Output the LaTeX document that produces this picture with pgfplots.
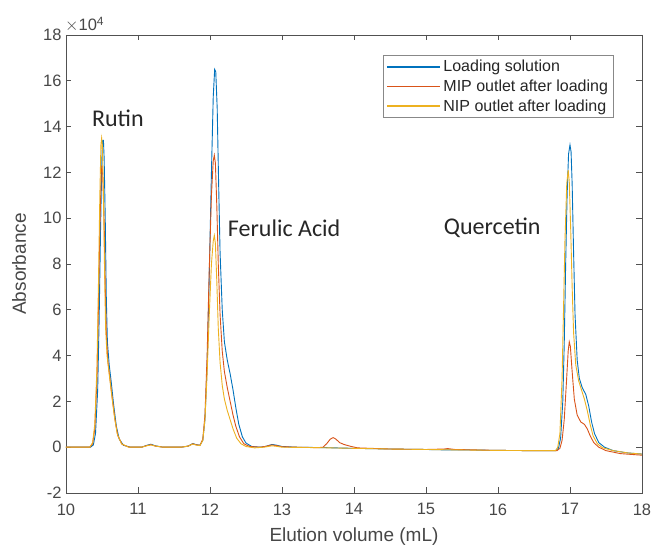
\documentclass[border=0pt]{standalone}
\usepackage{pgfplots}
\pgfplotsset{compat=1.18}
\usepackage{fontspec}
\setmainfont{Liberation Sans}
\newfontfamily\calib{Carlito}
\definecolor{mblue}{RGB}{0,114,189}
\definecolor{mred}{RGB}{217,83,25}
\definecolor{myellow}{RGB}{237,177,32}
\definecolor{axgray}{RGB}{38,38,38}
\begin{document}
\begin{tikzpicture}[x=1pt,y=1pt]
\path[use as bounding box] (0,0) rectangle (654,545);
\begin{axis}[
  at={(66pt,52pt)}, anchor=south west,
  scale only axis, width=576pt, height=458pt,
  xmin=10, xmax=18, ymin=-2, ymax=18,
  xtick={10,11,...,18}, ytick={-2,0,...,18},
  tick align=inside, tick pos=both,
  major tick length=5.5pt,
  axis line style={axgray!80, line width=0.7pt},
  every tick/.style={axgray!80, line width=0.7pt},
  tick label style={font=\fontsize{16.5}{18}\selectfont, text=axgray!85},
  xticklabel style={yshift=-7pt},
  yticklabel style={xshift=-1pt},
  /pgf/number format/assume math mode=true,
  xlabel={Elution volume (mL)}, ylabel={Absorbance},
  every axis x label/.style={at={(axis description cs:0.5,-0.096)}, anchor=center, font=\fontsize{19}{21}\selectfont, text=axgray!85},
  every axis y label/.style={at={(axis description cs:-0.0816,0.5)}, anchor=center, rotate=90, font=\fontsize{19}{21}\selectfont, text=axgray!85},
  legend style={at={(0.951,0.956)}, anchor=north east, draw=axgray!55, line width=0.6pt,
    font=\fontsize{16}{18}\selectfont, text=axgray, row sep=0pt, inner xsep=3pt, inner ysep=1.5pt,
    nodes={inner xsep=2.5pt, inner ysep=3.3pt}},
  legend cell align=left,
  legend image code/.code={\draw[#1] (0pt,0pt) -- (53pt,0pt);},
  clip mode=individual,
]
\addlegendimage{draw=mblue, line width=1.5pt}
\addlegendentry{Loading solution}
\addlegendimage{draw=mred, line width=1.5pt}
\addlegendentry{MIP outlet after loading}
\addlegendimage{draw=myellow, line width=1.5pt}
\addlegendentry{NIP outlet after loading}
\addplot[mblue, line width=0.9pt, forget plot] coordinates {(10.00,0.00)(10.20,0.00)(10.34,0.00)(10.38,0.10)(10.41,0.60)(10.44,2.5)(10.46,5.5)(10.48,9.5)(10.50,12.8)(10.51,13.4)(10.52,13.4)(10.53,12.6)(10.545,10.0)(10.56,6.5)(10.575,4.6)(10.60,3.6)(10.63,2.8)(10.66,1.9)(10.70,0.9)(10.74,0.35)(10.80,0.08)(10.90,0.00)(11.05,0.00)(11.12,0.08)(11.18,0.13)(11.24,0.06)(11.35,0.0)(11.60,0.0)(11.70,0.05)(11.76,0.16)(11.80,0.12)(11.86,0.08)(11.90,0.3)(11.93,1.2)(11.96,3.5)(11.99,7.5)(12.02,12.0)(12.045,15.3)(12.065,16.5)(12.08,16.4)(12.10,14.8)(12.12,11.5)(12.14,8.5)(12.17,6.0)(12.20,4.6)(12.24,3.8)(12.28,3.2)(12.32,2.5)(12.36,1.7)(12.40,1.0)(12.45,0.45)(12.50,0.18)(12.58,0.03)(12.70,0.0)(12.78,0.04)(12.86,0.12)(12.92,0.09)(13.00,0.03)(13.20,0.0)(13.6,-0.02)(14.0,-0.05)(14.5,-0.08)(15.0,-0.10)(15.3,-0.12)(15.6,-0.12)(16.0,-0.14)(16.5,-0.15)(16.80,-0.15)(16.84,-0.05)(16.87,0.4)(16.90,2.0)(16.92,4.5)(16.94,8.0)(16.96,11.0)(16.98,12.8)(17.00,13.2)(17.015,12.9)(17.03,11.5)(17.05,8.5)(17.07,5.8)(17.10,3.8)(17.13,3.0)(17.17,2.6)(17.22,2.3)(17.26,1.8)(17.30,1.1)(17.34,0.6)(17.40,0.2)(17.48,0.0)(17.60,-0.15)(17.80,-0.25)(18.00,-0.30)};
\addplot[mred, line width=0.9pt, forget plot] coordinates {(10.00,0.00)(10.20,0.00)(10.33,0.00)(10.37,0.15)(10.40,0.8)(10.43,3.0)(10.45,6.0)(10.47,9.5)(10.49,12.0)(10.50,12.3)(10.51,11.9)(10.53,9.8)(10.545,7.0)(10.56,5.0)(10.58,3.8)(10.61,3.0)(10.64,2.2)(10.68,1.2)(10.72,0.5)(10.78,0.12)(10.88,0.0)(11.05,0.0)(11.12,0.07)(11.18,0.11)(11.24,0.05)(11.35,0.0)(11.60,0.0)(11.70,0.05)(11.76,0.15)(11.80,0.11)(11.86,0.08)(11.90,0.35)(11.93,1.4)(11.96,4.0)(11.99,7.8)(12.02,11.0)(12.045,12.5)(12.06,12.75)(12.075,12.4)(12.095,10.5)(12.115,8.0)(12.14,5.8)(12.17,4.2)(12.20,3.3)(12.24,2.6)(12.28,2.0)(12.32,1.4)(12.36,0.9)(12.41,0.45)(12.47,0.15)(12.55,0.03)(12.70,0.0)(12.78,0.04)(12.86,0.10)(12.92,0.07)(13.00,0.02)(13.20,0.0)(13.50,-0.02)(13.57,0.0)(13.62,0.15)(13.67,0.35)(13.71,0.42)(13.75,0.35)(13.80,0.2)(13.86,0.12)(13.95,0.04)(14.05,-0.03)(14.5,-0.08)(15.0,-0.10)(15.25,-0.08)(15.3,-0.06)(15.4,-0.1)(16.0,-0.14)(16.5,-0.15)(16.82,-0.15)(16.86,-0.05)(16.89,0.3)(16.92,1.2)(16.95,2.8)(16.975,4.2)(16.99,4.6)(17.005,4.4)(17.03,3.3)(17.06,2.1)(17.10,1.4)(17.15,1.1)(17.20,1.0)(17.24,0.8)(17.28,0.5)(17.33,0.2)(17.40,0.0)(17.50,-0.15)(17.70,-0.28)(18.00,-0.35)};
\addplot[myellow, line width=0.9pt, forget plot] coordinates {(10.00,0.00)(10.20,0.00)(10.33,0.00)(10.37,0.2)(10.40,1.0)(10.43,3.5)(10.45,7.0)(10.47,11.0)(10.485,13.2)(10.495,13.5)(10.505,13.2)(10.52,11.0)(10.535,7.8)(10.55,5.2)(10.57,4.0)(10.60,3.2)(10.63,2.4)(10.67,1.4)(10.71,0.6)(10.77,0.15)(10.87,0.0)(11.05,0.0)(11.12,0.06)(11.18,0.10)(11.24,0.05)(11.35,0.0)(11.60,0.0)(11.70,0.05)(11.76,0.14)(11.80,0.10)(11.86,0.07)(11.90,0.3)(11.93,1.2)(11.96,3.2)(11.99,5.8)(12.02,8.0)(12.045,9.0)(12.06,9.25)(12.075,8.9)(12.095,7.2)(12.115,5.2)(12.14,3.7)(12.17,2.7)(12.20,2.1)(12.24,1.6)(12.28,1.2)(12.32,0.8)(12.37,0.4)(12.43,0.15)(12.50,0.03)(12.62,-0.03)(12.75,0.0)(12.86,0.06)(12.92,0.04)(13.00,0.0)(13.5,-0.02)(14.0,-0.05)(14.5,-0.08)(15.0,-0.10)(15.5,-0.12)(16.0,-0.14)(16.5,-0.15)(16.80,-0.15)(16.83,0.0)(16.86,0.6)(16.89,3.0)(16.91,6.0)(16.93,9.0)(16.955,11.5)(16.975,12.1)(16.99,11.6)(17.01,9.5)(17.03,7.0)(17.05,5.0)(17.08,3.6)(17.12,2.9)(17.16,2.5)(17.20,2.1)(17.24,1.6)(17.28,1.0)(17.32,0.5)(17.38,0.15)(17.45,-0.02)(17.60,-0.15)(17.80,-0.25)(18.00,-0.30)};
\node[font=\calib\fontsize{24}{26}\selectfont, text=axgray] at (axis cs:10.72,14.35) {Rutin};
\node[font=\calib\fontsize{24}{26}\selectfont, text=axgray] at (axis cs:13.03,9.57) {Ferulic Acid};
\node[font=\calib\fontsize{24}{26}\selectfont, text=axgray] at (axis cs:15.92,9.57) {Quercetin};
\node[anchor=south west, font=\fontsize{16.5}{18}\selectfont, text=axgray!85, inner sep=0pt] at ([xshift=-1pt,yshift=3pt]rel axis cs:0,1) {$\times$10\raisebox{0.5ex}{\fontsize{12}{13}\selectfont 4}};
\end{axis}
\end{tikzpicture}
\end{document}
